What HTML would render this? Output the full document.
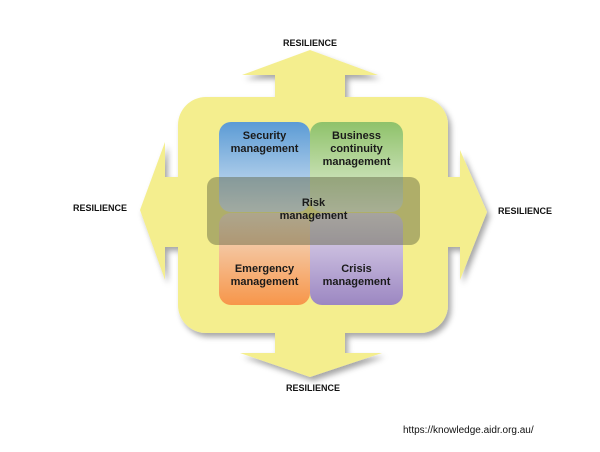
<!DOCTYPE html>
<html><head><style>
body{margin:0;width:600px;height:452px;background:#fff;position:relative;overflow:hidden;font-family:"Liberation Sans",sans-serif}
.l{position:absolute;font-weight:bold;font-size:9px;color:#111}
.b{position:absolute;border-radius:12px;display:flex;align-items:flex-start;justify-content:center;text-align:center;font-weight:bold;font-size:11px;line-height:13px;color:#1a1a1a;box-sizing:border-box;padding-top:8px}
</style></head><body>
<svg width="600" height="452" style="position:absolute;left:0;top:0">
<defs><filter id="s"><feDropShadow dx="3" dy="4" stdDeviation="3" flood-color="#000" flood-opacity="0.35"/></filter></defs>
<g fill="#f4ee8e" filter="url(#s)">
<polygon points="310,50 378,75 345,75 345,100 275,100 275,75 242,75"/>
<polygon points="310,377 382,353 345,353 345,330 275,330 275,353 240,353"/>
<polygon points="140,210 165,142 165,177 185,177 185,247 165,247 165,280"/>
<polygon points="487,212 460,150 460,177 440,177 440,247 460,247 460,280"/>
<rect x="178" y="97" width="270" height="236" rx="28"/>
</g>
</svg>
<div class="b" style="left:219px;top:122px;width:91px;height:90px;background:linear-gradient(#5b9bd5,#dbe8f5)">Security<br>management</div>
<div class="b" style="left:310px;top:122px;width:93px;height:90px;background:linear-gradient(#8fc26a,#e6f0dc)">Business<br>continuity<br>management</div>
<div class="b" style="left:219px;top:213px;width:91px;height:92px;background:linear-gradient(#f3e0cf,#f7964a);padding-top:50px">Emergency<br>management</div>
<div class="b" style="left:310px;top:213px;width:93px;height:92px;background:linear-gradient(#e4dcef,#9c87c2);padding-top:50px">Crisis<br>management</div>
<div class="b" style="left:207px;top:177px;width:213px;height:68px;background:rgba(90,95,60,0.45);padding-top:20px;border-radius:10px">Risk<br>management</div>
<div class="l" style="left:283px;top:38px">RESILIENCE</div>
<div class="l" style="left:286px;top:383px">RESILIENCE</div>
<div class="l" style="left:73px;top:203px">RESILIENCE</div>
<div class="l" style="left:498px;top:206px">RESILIENCE</div>
<div style="position:absolute;left:403px;top:425px;font-size:10px;color:#111">https://knowledge.aidr.org.au/</div>
</body></html>
